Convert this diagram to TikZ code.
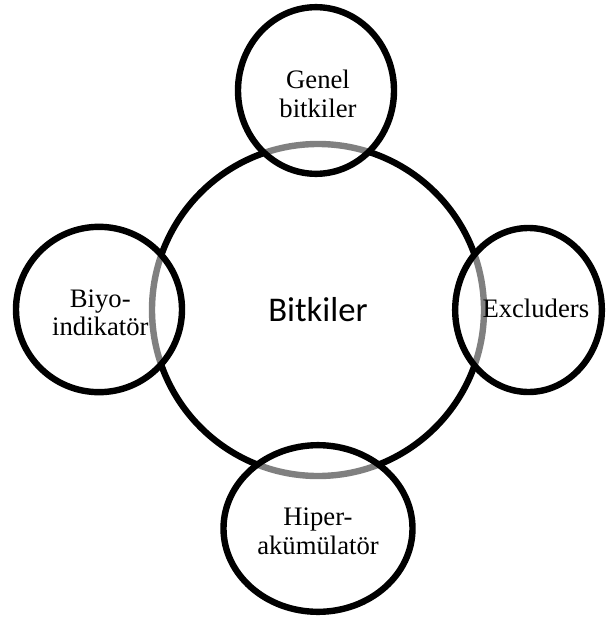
\documentclass[tikz,border=0pt]{standalone}
\usepackage{fontspec}
\setmainfont{Liberation Serif}
\newfontfamily\calibri{Carlito}
\usetikzlibrary{shapes.geometric}
\begin{document}
\begin{tikzpicture}[x=0.75pt,y=-0.75pt,
  big/.style={draw,circle,line width=4.8pt,inner sep=0pt,minimum size=249pt,font=\calibri\fontsize{26}{30}\selectfont},
  sub/.style={draw,ellipse,line width=4.8pt,inner sep=0pt,fill=white,fill opacity=.5},
  txt/.style={align=center,inner sep=0pt,font=\fontsize{20}{21.5}\selectfont}]
\useasboundingbox (0,0) rectangle (616,617);
\node[big] (plants) at (318,310) {Bitkiler};
\node[sub,minimum width=117pt,minimum height=125pt] (general) at (316,90.5) {};
\node[sub,minimum width=124.5pt,minimum height=124pt] (bio) at (99,309.5) {};
\node[sub,minimum width=110pt,minimum height=123pt] (excl) at (528.5,310) {};
\node[sub,minimum width=141.75pt,minimum height=125pt] (hyper) at (318,528.5) {};
\node[txt] (generaltext) at ([xshift=1.5pt,yshift=-2.5pt]general) {Genel\\bitkiler};
\node[txt] (biotext) at ([xshift=1pt,yshift=-2.5pt]bio) {Biyo-\\indikatör};
\node[txt] (excltext) at ([xshift=5.5pt,yshift=1pt]excl) {Excluders};
\node[txt] (hypertext) at ([yshift=-2pt]hyper) {Hiper-\\akümülatör};
\end{tikzpicture}
\end{document}
